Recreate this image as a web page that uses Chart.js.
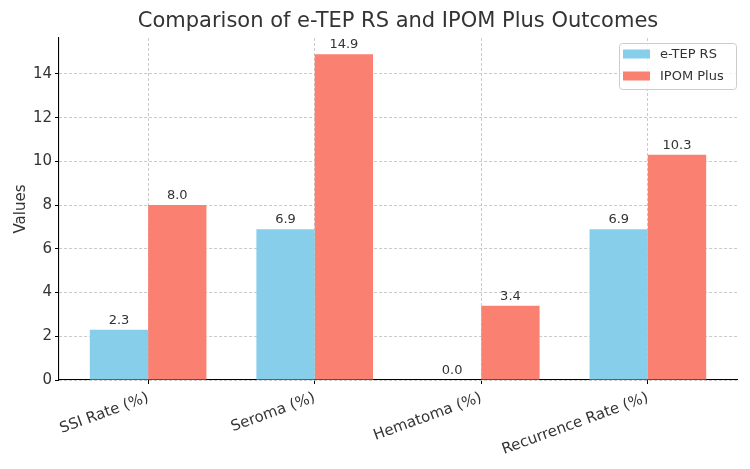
<!DOCTYPE html>
<html>
<head>
<meta charset="utf-8">
<script src="https://cdn.jsdelivr.net/npm/chart.js@4/dist/chart.umd.min.js"></script>
<style>
html,body{margin:0;padding:0;background:#fff;}
#wrap{width:750px;height:469px;}
</style>
</head>
<body>
<div id="wrap"><canvas id="c" width="750" height="469"></canvas></div>
<script>
const categories = ['SSI Rate (%)', 'Seroma (%)', 'Hematoma (%)', 'Recurrence Rate (%)'];
const etepValues = [2.3, 6.9, 0.0, 6.9];
const ipomValues = [8.0, 14.9, 3.4, 10.3];
const yTicks = [0, 2, 4, 6, 8, 10, 12, 14];
const seriesNames = ['e-TEP RS', 'IPOM Plus'];
const seriesColors = ['#87CEEB', '#FA8072'];
const titleText = 'Comparison of e-TEP RS and IPOM Plus Outcomes';

const FONT = 'DejaVu Sans';
const TXT = '#333333';

const valueLabels = {
  id: 'valueLabels',
  afterDatasetsDraw(chart) {
    const ctx = chart.ctx;
    ctx.save();
    ctx.font = '13px "' + FONT + '"';
    ctx.fillStyle = TXT;
    ctx.textAlign = 'center';
    ctx.textBaseline = 'bottom';
    chart.data.datasets.forEach((ds, di) => {
      const meta = chart.getDatasetMeta(di);
      meta.data.forEach((bar, i) => {
        const v = ds.data[i].y;
        ctx.fillText(v.toFixed(1), bar.x, bar.y - 3);
      });
    });
    ctx.restore();
  }
};

const titleAndLegend = {
  id: 'titleAndLegend',
  afterDraw(chart) {
    const ctx = chart.ctx;
    const a = chart.chartArea;
    ctx.save();
    ctx.font = '21px "' + FONT + '"';
    ctx.fillStyle = TXT;
    ctx.textAlign = 'center';
    ctx.textBaseline = 'middle';
    ctx.fillText(titleText, (a.left + a.right) / 2, 22);

    const w = 117, h = 46;
    const x = a.right - w - 1, y = a.top + 5;
    ctx.beginPath();
    ctx.roundRect(x + 0.5, y + 0.5, w, h, 3);
    ctx.fillStyle = 'rgba(255,255,255,0.8)';
    ctx.fill();
    ctx.strokeStyle = '#cccccc';
    ctx.lineWidth = 1;
    ctx.stroke();
    ctx.font = '13px "' + FONT + '"';
    ctx.textBaseline = 'middle';
    ctx.textAlign = 'left';
    seriesNames.forEach((n, i) => {
      const cy = y + 11 + i * 22;
      ctx.fillStyle = seriesColors[i];
      ctx.fillRect(x + 4, cy - 4.5, 27, 9);
      ctx.fillStyle = TXT;
      ctx.fillText(n, x + 41, cy + 0.5);
    });
    ctx.restore();
  }
};

const datasets = [etepValues, ipomValues].map((vals, si) => ({
  label: seriesNames[si],
  data: vals.map((v, i) => ({ x: i, y: v })),
  backgroundColor: seriesColors[si],
  borderWidth: 0,
  categoryPercentage: 0.7,
  barPercentage: 1.0
}));

const gridOpts = {
  color: '#c4c4c4',
  tickColor: '#000',
  tickBorderDash: [],
  tickLength: 4,
  tickWidth: 1,
  lineWidth: 0.9
};

new Chart(document.getElementById('c'), {
  type: 'bar',
  data: { datasets },
  plugins: [valueLabels, titleAndLegend],
  options: {
    responsive: false,
    animation: false,
    devicePixelRatio: 1,
    layout: { padding: { left: 0, right: 13, top: 38, bottom: 0 } },
    plugins: {
      legend: { display: false },
      tooltip: { enabled: false },
      title: { display: false }
    },
    scales: {
      x: {
        type: 'linear',
        offset: false,
        min: -0.535,
        max: 3.535,
        afterBuildTicks(scale) { scale.ticks = categories.map((c, i) => ({ value: i })); },
        afterFit(scale) { scale.height = 89; },
        ticks: {
          callback: (v) => categories[v],
          color: TXT,
          font: { family: FONT, size: 15 },
          maxRotation: 20,
          minRotation: 20,
          autoSkip: false,
          padding: 5
        },
        grid: Object.assign({ offset: false }, gridOpts),
        border: { display: true, color: '#000', width: 1.1, dash: [3, 2] }
      },
      y: {
        min: 0,
        max: 15.645,
        afterBuildTicks(scale) { scale.ticks = yTicks.map(v => ({ value: v })); },
        afterFit(scale) { scale.width = 59; },
        ticks: {
          color: TXT,
          font: { family: FONT, size: 15 },
          padding: 3
        },
        grid: Object.assign({}, gridOpts),
        border: { display: true, color: '#000', width: 1.1, dash: [3, 2] },
        title: {
          display: true,
          text: 'Values',
          color: TXT,
          font: { family: FONT, size: 15 },
          padding: { top: 12, bottom: 0 }
        }
      }
    }
  }
});
</script>
</body>
</html>
